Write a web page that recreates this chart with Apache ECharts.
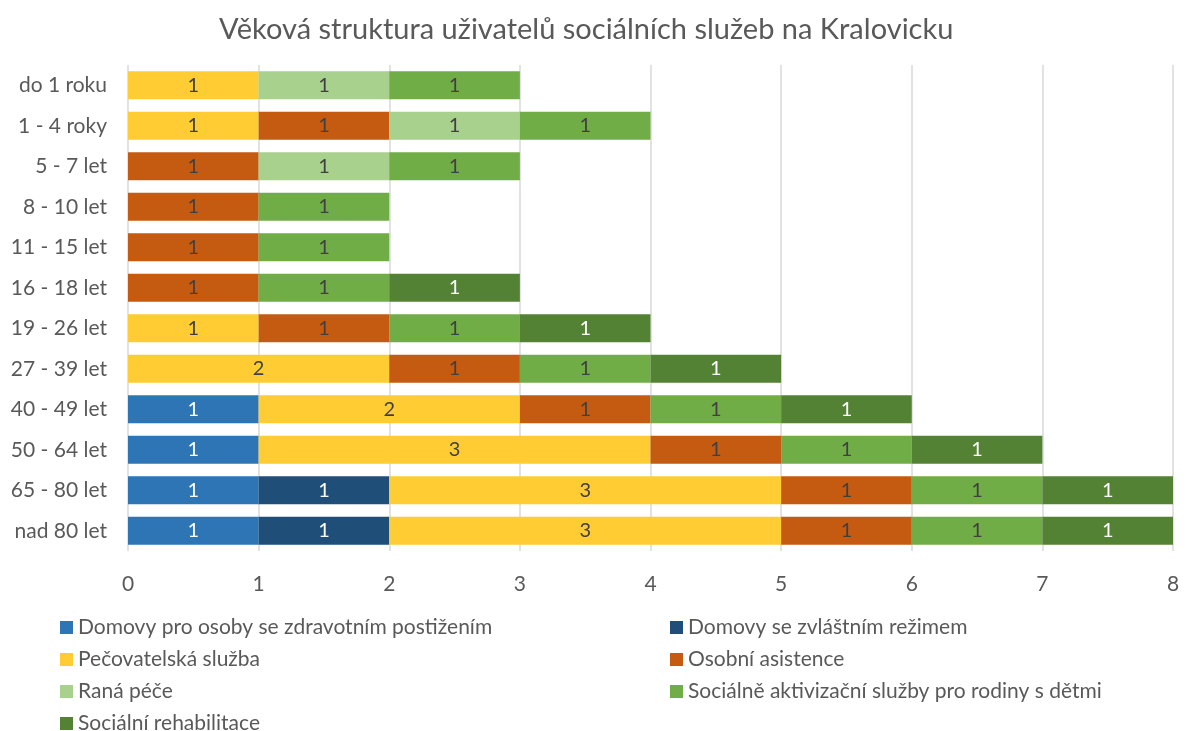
<!DOCTYPE html>
<html>
<head>
<meta charset="utf-8">
<script src="https://cdn.jsdelivr.net/npm/echarts@6/dist/echarts.min.js"></script>
<style>
html, body { margin: 0; padding: 0; background: #fff; }
#chart-container { width: 1187px; height: 731px; }
</style>
</head>
<body>
<div id="chart-container"></div>
<script>
const categories = ['do 1 roku', '1 - 4 roky', '5 - 7 let', '8 - 10 let', '11 - 15 let', '16 - 18 let',
	'19 - 26 let', '27 - 39 let', '40 - 49 let', '50 - 64 let', '65 - 80 let', 'nad 80 let'];
const domovyOZP = [0, 0, 0, 0, 0, 0, 0, 0, 1, 1, 1, 1];
const domovyZR = [0, 0, 0, 0, 0, 0, 0, 0, 0, 0, 1, 1];
const pecovatelska = [1, 1, 0, 0, 0, 0, 1, 2, 2, 3, 3, 3];
const osobniAsistence = [0, 1, 1, 1, 1, 1, 1, 1, 1, 1, 1, 1];
const ranaPece = [1, 1, 1, 0, 0, 0, 0, 0, 0, 0, 0, 0];
const aktivizacni = [1, 1, 1, 1, 1, 1, 1, 1, 1, 1, 1, 1];
const rehabilitace = [0, 0, 0, 0, 0, 1, 1, 1, 1, 1, 1, 1];
const xTicks = [0, 1, 2, 3, 4, 5, 6, 7, 8];

const font = 'Lato';
let myChart = echarts.init(document.getElementById('chart-container'), null, {
	renderer: 'canvas',
});

function makeSeries(name, data, color, labelColor) {
	return {
		name: name,
		type: 'bar',
		stack: 'total',
		barCategoryGap: '31%',
		data: data,
		itemStyle: { color: color },
		label: {
			show: true,
			position: 'inside',
			color: labelColor,
			fontFamily: font,
			fontSize: 20,
			formatter: function (p) {
				return p.value ? String(p.value) : '';
			},
		},
	};
}

const legendText = { color: '#595959', fontFamily: font, fontSize: 21 };

myChart.setOption({
	animation: false,
	title: {
		text: 'Věková struktura uživatelů sociálních služeb na Kralovicku',
		left: 214,
		top: 10,
		textStyle: { color: '#595959', fontFamily: font, fontSize: 29, fontWeight: 'normal' },
	},
	grid: { left: 128, right: 14, top: 65, bottom: 180 },
	legend: [
		{
			orient: 'vertical',
			left: 55,
			top: 612,
			height: 130,
			itemWidth: 13,
			itemHeight: 13,
			itemGap: 11,
			icon: 'rect',
			textStyle: legendText,
			data: ['Domovy pro osoby se zdravotním postižením', 'Pečovatelská služba', 'Raná péče', 'Sociální rehabilitace'],
		},
		{
			orient: 'vertical',
			left: 665,
			top: 612,
			height: 130,
			itemWidth: 13,
			itemHeight: 13,
			itemGap: 11,
			icon: 'rect',
			textStyle: legendText,
			data: ['Domovy se zvláštním režimem', 'Osobní asistence', 'Sociálně aktivizační služby pro rodiny s dětmi'],
		},
	],
	xAxis: {
		type: 'value',
		min: 0,
		max: 8,
		interval: 1,
		axisLine: { show: false },
		axisTick: { show: false },
		splitLine: { lineStyle: { color: '#d9d9d9', width: 1.5 } },
		axisLabel: {
			color: '#595959',
			fontFamily: font,
			fontSize: 21,
			margin: 23,
			formatter: function (v) {
				return xTicks.indexOf(v) >= 0 ? String(v) : '';
			},
		},
	},
	yAxis: {
		type: 'category',
		inverse: true,
		data: categories,
		axisLine: { show: false },
		axisTick: { show: false },
		axisLabel: { color: '#595959', fontFamily: font, fontSize: 21, margin: 21 },
	},
	series: [
		makeSeries('Domovy pro osoby se zdravotním postižením', domovyOZP, '#2e75b6', '#ffffff'),
		makeSeries('Domovy se zvláštním režimem', domovyZR, '#1f4e79', '#ffffff'),
		makeSeries('Pečovatelská služba', pecovatelska, '#ffcd33', '#404040'),
		makeSeries('Osobní asistence', osobniAsistence, '#c55a11', '#404040'),
		makeSeries('Raná péče', ranaPece, '#a9d18e', '#404040'),
		makeSeries('Sociálně aktivizační služby pro rodiny s dětmi', aktivizacni, '#70ad47', '#404040'),
		makeSeries('Sociální rehabilitace', rehabilitace, '#548235', '#ffffff'),
	],
});
window.addEventListener('resize', myChart.resize);
</script>
</body>
</html>
